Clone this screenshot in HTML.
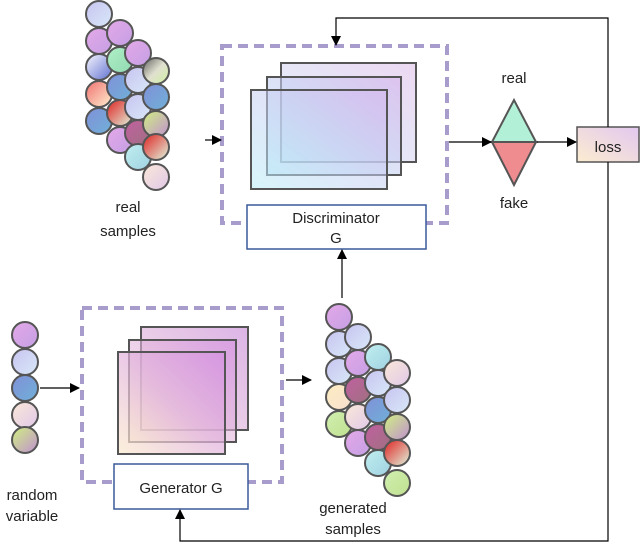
<!DOCTYPE html>
<html><head><meta charset="utf-8"><style>html,body{margin:0;padding:0;background:#fff}svg{display:block}</style></head><body>
<svg width="640" height="544" viewBox="0 0 640 544" xmlns="http://www.w3.org/2000/svg" font-family="Liberation Sans, sans-serif">
<defs>
<linearGradient id="gd" x1="0" y1="1" x2="1" y2="0"><stop offset="0" stop-color="#b8ecf8"/><stop offset="1" stop-color="#d4b4ec"/></linearGradient>
<linearGradient id="gd2" x1="0" y1="1" x2="1" y2="0"><stop offset="0" stop-color="#e0f4fb"/><stop offset="1" stop-color="#ecd8f2"/></linearGradient>
<linearGradient id="gg" x1="0" y1="1" x2="1" y2="0"><stop offset="0" stop-color="#fbeacc"/><stop offset="0.5" stop-color="#e2b4dc"/><stop offset="1" stop-color="#d38ee0"/></linearGradient>
<linearGradient id="gg2" x1="0" y1="1" x2="1" y2="0"><stop offset="0" stop-color="#f6e4e8"/><stop offset="1" stop-color="#dcb4e6"/></linearGradient>
<linearGradient id="gl" x1="0" y1="1" x2="1" y2="0"><stop offset="0" stop-color="#fcecd0"/><stop offset="1" stop-color="#e2c8f0"/></linearGradient>
<linearGradient id="c1" x1="0" y1="0" x2="1" y2="1"><stop offset="0" stop-color="#c8c4f0"/><stop offset="1" stop-color="#d8e8f8"/></linearGradient>
<linearGradient id="c2" x1="0" y1="0" x2="1" y2="1"><stop offset="0" stop-color="#e4a8e8"/><stop offset="1" stop-color="#c4a0e4"/></linearGradient>
<linearGradient id="c3" x1="0" y1="0" x2="1" y2="1"><stop offset="0" stop-color="#b0f0c8"/><stop offset="1" stop-color="#90d8b0"/></linearGradient>
<linearGradient id="c4" x1="0" y1="0" x2="1" y2="1"><stop offset="0" stop-color="#f8f8ff"/><stop offset="1" stop-color="#6070d0"/></linearGradient>
<linearGradient id="c5" x1="0" y1="0" x2="1" y2="1"><stop offset="0" stop-color="#f07070"/><stop offset="1" stop-color="#fff0d0"/></linearGradient>
<linearGradient id="c6" x1="0" y1="0" x2="1" y2="1"><stop offset="0" stop-color="#8090d8"/><stop offset="1" stop-color="#70b0d8"/></linearGradient>
<linearGradient id="c7" x1="0" y1="0" x2="1" y2="1"><stop offset="0" stop-color="#606060"/><stop offset="0.5" stop-color="#e0e0d0"/><stop offset="1" stop-color="#d0f0a0"/></linearGradient>
<linearGradient id="c8" x1="0" y1="0" x2="1" y2="1"><stop offset="0" stop-color="#e02020"/><stop offset="1" stop-color="#e0f8e0"/></linearGradient>
<linearGradient id="c9" x1="0" y1="0" x2="1" y2="1"><stop offset="0" stop-color="#d0f080"/><stop offset="1" stop-color="#c090d0"/></linearGradient>
<linearGradient id="c10" x1="0" y1="0" x2="1" y2="1"><stop offset="0" stop-color="#c060a0"/><stop offset="1" stop-color="#a07080"/></linearGradient>
<linearGradient id="c11" x1="0" y1="0" x2="1" y2="1"><stop offset="0" stop-color="#fbe8d8"/><stop offset="1" stop-color="#e0c8e8"/></linearGradient>
<linearGradient id="c12" x1="0" y1="0" x2="1" y2="1"><stop offset="0" stop-color="#c0f0f0"/><stop offset="1" stop-color="#a0d0e0"/></linearGradient>
<linearGradient id="c13" x1="0" y1="0" x2="1" y2="1"><stop offset="0" stop-color="#fcecc0"/><stop offset="1" stop-color="#f8e0d0"/></linearGradient>
<linearGradient id="c14" x1="0" y1="0" x2="1" y2="1"><stop offset="0" stop-color="#d0f0b0"/><stop offset="1" stop-color="#c0e090"/></linearGradient>
<marker id="ar" markerWidth="10" markerHeight="10" refX="9" refY="5" orient="auto" markerUnits="userSpaceOnUse"><path d="M0,0 L10,5 L0,10 z" fill="#000"/></marker>
</defs>
<g stroke="#555" stroke-width="2">
<circle cx="99" cy="14" r="13" fill="url(#c1)"/><circle cx="99" cy="41" r="13" fill="url(#c2)"/><circle cx="99" cy="67" r="13" fill="url(#c4)"/><circle cx="99" cy="94" r="13" fill="url(#c5)"/><circle cx="99" cy="121" r="13" fill="url(#c6)"/>
<circle cx="120" cy="33" r="13" fill="url(#c2)"/><circle cx="120" cy="60" r="13" fill="url(#c3)"/><circle cx="120" cy="87" r="13" fill="url(#c6)"/><circle cx="120" cy="113" r="13" fill="url(#c8)"/><circle cx="120" cy="140" r="13" fill="url(#c2)"/>
<circle cx="138" cy="53" r="13" fill="url(#c2)"/><circle cx="138" cy="80" r="13" fill="url(#c1)"/><circle cx="138" cy="107" r="13" fill="url(#c1)"/><circle cx="138" cy="133" r="13" fill="url(#c10)"/><circle cx="138" cy="157" r="13" fill="url(#c12)"/>
<circle cx="156" cy="71" r="13" fill="url(#c7)"/><circle cx="156" cy="97" r="13" fill="url(#c6)"/><circle cx="156" cy="124" r="13" fill="url(#c9)"/><circle cx="156" cy="147" r="13" fill="url(#c8)"/><circle cx="156" cy="177" r="13" fill="url(#c11)"/>

<circle cx="339" cy="317" r="13" fill="url(#c2)"/><circle cx="339" cy="344" r="13" fill="url(#c1)"/><circle cx="339" cy="371" r="13" fill="url(#c1)"/><circle cx="339" cy="397" r="13" fill="url(#c13)"/><circle cx="339" cy="424" r="13" fill="url(#c14)"/>
<circle cx="358" cy="337" r="13" fill="url(#c1)"/><circle cx="358" cy="363" r="13" fill="url(#c2)"/><circle cx="358" cy="390" r="13" fill="url(#c10)"/><circle cx="358" cy="417" r="13" fill="url(#c11)"/><circle cx="358" cy="443" r="13" fill="url(#c2)"/>
<circle cx="378" cy="357" r="13" fill="url(#c12)"/><circle cx="378" cy="383" r="13" fill="url(#c1)"/><circle cx="378" cy="410" r="13" fill="url(#c6)"/><circle cx="378" cy="437" r="13" fill="url(#c10)"/><circle cx="378" cy="463" r="13" fill="url(#c12)"/>
<circle cx="397" cy="373" r="13" fill="url(#c11)"/><circle cx="397" cy="400" r="13" fill="url(#c1)"/><circle cx="397" cy="427" r="13" fill="url(#c9)"/><circle cx="397" cy="453" r="13" fill="url(#c8)"/><circle cx="397" cy="483" r="13" fill="url(#c14)"/>

<circle cx="25" cy="335" r="13" fill="url(#c2)"/><circle cx="25" cy="362" r="13" fill="url(#c1)"/><circle cx="25" cy="388" r="13" fill="url(#c6)"/><circle cx="25" cy="415" r="13" fill="url(#c11)"/><circle cx="25" cy="440" r="13" fill="url(#c9)"/>
</g>

<rect x="222" y="46" width="225" height="177" fill="none" stroke="#a89ccc" stroke-width="4" stroke-dasharray="10,6"/>
<rect x="281" y="63" width="135" height="99" fill="url(#gd2)" stroke="#555" stroke-width="2"/>
<rect x="267" y="77" width="134" height="98" fill="url(#gd)" fill-opacity="0.6" stroke="#555" stroke-width="2"/>
<rect x="251" y="90" width="136" height="99" fill="url(#gd)" fill-opacity="0.55" stroke="#555" stroke-width="2"/>
<rect x="247" y="205" width="179" height="44" fill="#fff" stroke="#3a5a9a" stroke-width="1.5"/>
<text x="336" y="223" font-size="15" text-anchor="middle" fill="#222">Discriminator</text>
<text x="336" y="243" font-size="15" text-anchor="middle" fill="#222">G</text>

<rect x="82" y="308" width="200" height="174" fill="none" stroke="#a89ccc" stroke-width="4" stroke-dasharray="10,6"/>
<rect x="141" y="327" width="107" height="103" fill="url(#gg2)" stroke="#555" stroke-width="2"/>
<rect x="129" y="340" width="107" height="102" fill="url(#gg)" fill-opacity="0.6" stroke="#555" stroke-width="2"/>
<rect x="118" y="352" width="107" height="102" fill="url(#gg)" fill-opacity="0.7" stroke="#555" stroke-width="2"/>
<rect x="114" y="464" width="134" height="45" fill="#fff" stroke="#3a5a9a" stroke-width="1.5"/>
<text x="181" y="493" font-size="15" text-anchor="middle" fill="#222">Generator G</text>

<polygon points="492,142 514,100 536,142" fill="#b2f0d8" stroke="#555" stroke-width="2"/>
<polygon points="492,142 514,185 536,142" fill="#ee8c90" stroke="#555" stroke-width="2"/>
<line x1="492" y1="142" x2="536" y2="142" stroke="#555" stroke-width="2"/>
<text x="514" y="83" font-size="15" text-anchor="middle" fill="#222">real</text>
<text x="514" y="208" font-size="15" text-anchor="middle" fill="#222">fake</text>

<rect x="577" y="127" width="62" height="35" fill="url(#gl)" stroke="#555" stroke-width="1.5"/>
<text x="608" y="152" font-size="15" text-anchor="middle" fill="#222">loss</text>

<g stroke="#000" stroke-width="1.2" fill="none">
<polyline points="608,127 608,18 336,18 336,45" marker-end="url(#ar)"/>
<polyline points="608,162 608,541 180,541 180,510" marker-end="url(#ar)"/>
<line x1="205" y1="140" x2="221" y2="140" marker-end="url(#ar)"/>
<line x1="449" y1="142" x2="491" y2="142" marker-end="url(#ar)"/>
<line x1="537" y1="142" x2="576" y2="142" marker-end="url(#ar)"/>
<line x1="40" y1="388" x2="79" y2="388" marker-end="url(#ar)"/>
<line x1="286" y1="380" x2="311" y2="380" marker-end="url(#ar)"/>
<line x1="342" y1="298" x2="342" y2="250" marker-end="url(#ar)"/>
</g>

<text x="128" y="212" font-size="15" text-anchor="middle" fill="#222">real</text>
<text x="128" y="236" font-size="15" text-anchor="middle" fill="#222">samples</text>
<text x="353" y="513" font-size="15" text-anchor="middle" fill="#222">generated</text>
<text x="353" y="534" font-size="15" text-anchor="middle" fill="#222">samples</text>
<text x="32" y="500" font-size="15" text-anchor="middle" fill="#222">random</text>
<text x="32" y="521" font-size="15" text-anchor="middle" fill="#222">variable</text>
</svg>
</body></html>
